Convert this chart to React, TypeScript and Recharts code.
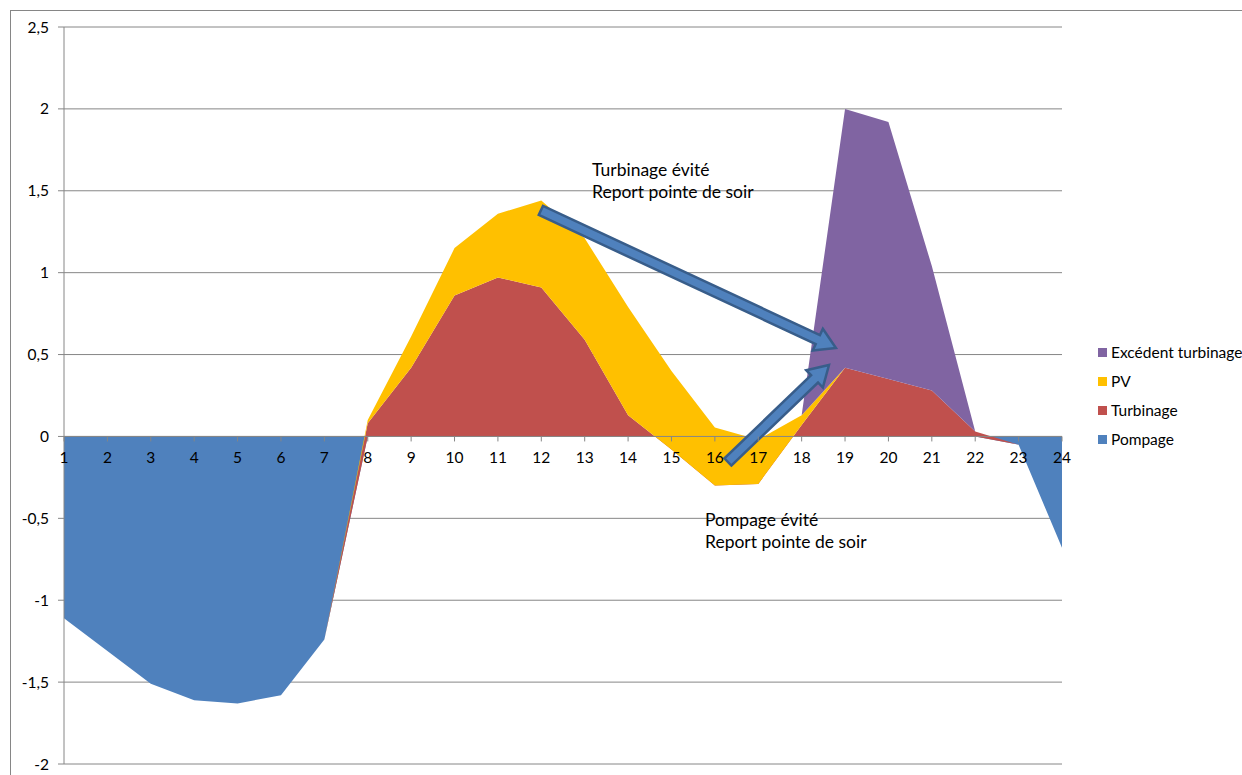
import React from "react";
import {
  AreaChart,
  Area,
  XAxis,
  YAxis,
  CartesianGrid,
  ReferenceLine,
  ReferenceDot,
} from "recharts";

// Hourly profile (hours 1..24), stacked in this order
const hours = [1, 2, 3, 4, 5, 6, 7, 8, 9, 10, 11, 12, 13, 14, 15, 16, 17, 18, 19, 20, 21, 22, 23, 24];
const pompage = [-1.11, -1.31, -1.51, -1.61, -1.63, -1.58, -1.24, 0, 0, 0, 0, 0, 0, 0, 0, 0, 0, 0, 0, 0, 0, 0, -0.05, -0.68];
const turbinage = [0, 0, 0, 0, 0, 0, 0, 0.08, 0.42, 0.86, 0.97, 0.91, 0.59, 0.13, -0.08, -0.3, -0.29, 0.07, 0.42, 0.35, 0.28, 0.03, 0, 0];
const pv = [0, 0, 0, 0, 0, 0, 0, 0.02, 0.19, 0.29, 0.39, 0.53, 0.62, 0.66, 0.48, 0.355, 0.27, 0.06, 0, 0, 0, 0, 0, 0];
const excedent = [0, 0, 0, 0, 0, 0, 0, 0, 0, 0, 0, 0, 0, 0, 0, 0, 0, 0, 1.58, 1.57, 0.76, 0, 0, 0];

const yTicks = [-2, -1.5, -1, -0.5, 0, 0.5, 1, 1.5, 2, 2.5];
const yTickLabels = ["-2", "-1,5", "-1", "-0,5", "0", "0,5", "1", "1,5", "2", "2,5"];
const hourLabels = hours.map((h) => String(h));

// Annotation arrows, in (hour, value) coordinates
const arrowTurbinage = [
  { x: 11.99, y: 1.38 },
  { x: 18.79, y: 0.54 },
];
const arrowPompage = [
  { x: 16.3, y: -0.156 },
  { x: 18.63, y: 0.436 },
];

const legendItems = [
  { name: "Excédent turbinage", color: "#8064A2" },
  { name: "PV", color: "#FFC000" },
  { name: "Turbinage", color: "#C0504D" },
  { name: "Pompage", color: "#4F81BD" },
];

const data = hours.map((h, i) => ({
  hour: h,
  pompage: pompage[i],
  turbinage: turbinage[i],
  pv: pv[i],
  excedent: excedent[i],
}));

const FONT = "Lato, 'Open Sans', sans-serif";
const AXIS_GRAY = "#868686";

function BlockArrow(props: any) {
  const { x1, y1, x2, y2 } = props;
  const dx = x2 - x1;
  const dy = y2 - y1;
  const len = Math.sqrt(dx * dx + dy * dy);
  const ux = dx / len;
  const uy = dy / len;
  const nx = -uy;
  const ny = ux;
  const sh = 5;
  const hh = 12;
  const hl = 20;
  const bx = x1 + ux * (len - hl);
  const by = y1 + uy * (len - hl);
  const pts = [
    [x1 + nx * sh, y1 + ny * sh],
    [bx + nx * sh, by + ny * sh],
    [bx + nx * hh, by + ny * hh],
    [x2, y2],
    [bx - nx * hh, by - ny * hh],
    [bx - nx * sh, by - ny * sh],
    [x1 - nx * sh, y1 - ny * sh],
  ]
    .map((p) => p.join(","))
    .join(" ");
  return <polygon points={pts} fill="#4F81BD" stroke="#385D8A" strokeWidth={2.5} strokeLinejoin="miter" />;
}

function HourTick(props: any) {
  const { cx, cy, label } = props;
  return (
    <g>
      <line x1={cx} y1={cy} x2={cx} y2={cy + 5} stroke={AXIS_GRAY} strokeWidth={1} />
      <text x={cx} y={cy + 27} textAnchor="middle" fontSize={15.5} fontFamily={FONT} fill="#000">
        {label}
      </text>
    </g>
  );
}

const textStyle: React.CSSProperties = {
  position: "absolute",
  fontFamily: FONT,
  fontSize: 17.5,
  color: "#000",
  lineHeight: "21.5px",
  whiteSpace: "nowrap",
};

export default function App() {
  return (
    <div
      style={{
        position: "fixed",
        left: 0,
        top: 0,
        width: 1242,
        height: 775,
        background: "#fff",
        overflow: "hidden",
        fontFamily: FONT,
      }}
    >
      <div
        style={{
          position: "absolute",
          left: 10,
          top: 10,
          width: 1300,
          height: 820,
          border: `1px solid ${AXIS_GRAY}`,
          boxSizing: "border-box",
        }}
      />
      <div style={{ position: "absolute", left: 0, top: 0 }}>
        <AreaChart
          width={1242}
          height={775}
          data={data}
          margin={{ top: 27, right: 180, bottom: 11, left: 0 }}
        >
          <CartesianGrid vertical={false} stroke={AXIS_GRAY} strokeWidth={1} />
          <XAxis type="number" dataKey="hour" domain={[1, 24]} hide />
          <YAxis
            type="number"
            domain={[-2, 2.5]}
            ticks={yTicks}
            width={64}
            interval={0}
            axisLine={{ stroke: AXIS_GRAY }}
            tickLine={{ stroke: AXIS_GRAY }}
            tickSize={6}
            tickMargin={9}
            tickFormatter={(v: number) => yTickLabels[yTicks.indexOf(v)]}
            tick={{ fill: "#000", fontSize: 15.5, fontFamily: FONT }}
          />
          <Area
            type="linear"
            dataKey="pompage"
            stackId="a"
            fill="#4F81BD"
            fillOpacity={1}
            stroke="none"
            isAnimationActive={false}
          />
          <Area
            type="linear"
            dataKey="turbinage"
            stackId="a"
            fill="#C0504D"
            fillOpacity={1}
            stroke="none"
            isAnimationActive={false}
          />
          <Area
            type="linear"
            dataKey="pv"
            stackId="a"
            fill="#FFC000"
            fillOpacity={1}
            stroke="none"
            isAnimationActive={false}
          />
          <Area
            type="linear"
            dataKey="excedent"
            stackId="a"
            fill="#8064A2"
            fillOpacity={1}
            stroke="none"
            isAnimationActive={false}
          />
          <ReferenceLine y={0} stroke={AXIS_GRAY} strokeWidth={1} />
          {hours.map((h, i) => (
            <ReferenceDot
              key={h}
              x={h}
              y={0}
              r={0}
              ifOverflow="visible"
              shape={(p: any) => <HourTick {...p} label={hourLabels[i]} />}
            />
          ))}
          <ReferenceLine
            segment={arrowTurbinage}
            ifOverflow="visible"
            shape={(p: any) => <BlockArrow {...p} />}
          />
          <ReferenceLine
            segment={arrowPompage}
            ifOverflow="visible"
            shape={(p: any) => <BlockArrow {...p} />}
          />
        </AreaChart>
      </div>

      <div style={{ ...textStyle, left: 592, top: 159 }}>
        Turbinage évité
        <br />
        Report pointe de soir
      </div>
      <div style={{ ...textStyle, left: 705, top: 509 }}>
        Pompage évité
        <br />
        Report pointe de soir
      </div>

      {legendItems.map((item, i) => (
        <div
          key={item.name}
          style={{
            position: "absolute",
            left: 1098,
            top: 342 + i * 29,
            height: 20,
            display: "flex",
            alignItems: "center",
            whiteSpace: "nowrap",
            fontFamily: FONT,
            fontSize: 15.5,
            color: "#000",
          }}
        >
          <span
            style={{
              display: "inline-block",
              width: 9,
              height: 9,
              background: item.color,
              marginRight: 4,
            }}
          />
          <span>{item.name}</span>
        </div>
      ))}
    </div>
  );
}
